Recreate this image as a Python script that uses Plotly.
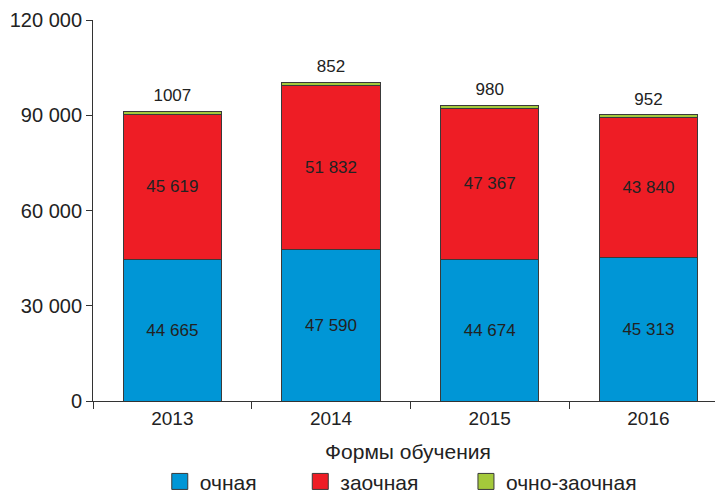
import plotly.graph_objects as go

years = ["2013", "2014", "2015", "2016"]
ochnaya = [44665, 47590, 44674, 45313]
zaochnaya = [45619, 51832, 47367, 43840]
ochno_zaochnaya = [1007, 852, 980, 952]
yticks = [0, 30000, 60000, 90000, 120000]
ytick_text = ["0", "30 000", "60 000", "90 000", "120 000"]

series_names = ["очная", "заочная", "очно-заочная"]
series_colors = ["#0096d6", "#ee1d25", "#a4c93b"]


def fmt(v):
    return f"{v:,}".replace(",", " ")


totals = [a + b + c for a, b, c in zip(ochnaya, zaochnaya, ochno_zaochnaya)]
line = dict(color="#3a3a3a", width=1)
font_family = "Liberation Sans, Arial, sans-serif"

fig = go.Figure()
fig.add_trace(go.Bar(
    x=years, y=ochnaya, name=series_names[0],
    marker=dict(color=series_colors[0], line=line),
    text=[fmt(v) for v in ochnaya], textposition="inside",
    insidetextanchor="middle", textangle=0,
    textfont=dict(color="#222222", size=17),
    width=0.62, showlegend=False,
))
fig.add_trace(go.Bar(
    x=years, y=zaochnaya, name=series_names[1],
    marker=dict(color=series_colors[1], line=line),
    text=[fmt(v) for v in zaochnaya], textposition="inside",
    insidetextanchor="middle", textangle=0,
    textfont=dict(color="#222222", size=17),
    width=0.62, showlegend=False,
))
fig.add_trace(go.Bar(
    x=years, y=ochno_zaochnaya, name=series_names[2],
    marker=dict(color=series_colors[2], line=line),
    textposition="none",
    width=0.62, showlegend=False,
))
# labels for the thin top segment, above the bar
fig.add_trace(go.Scatter(
    x=years, y=totals, mode="markers+text",
    marker=dict(size=8, opacity=0),
    text=[str(v) for v in ochno_zaochnaya], textposition="top center",
    textfont=dict(color="#222222", size=17),
    showlegend=False, hoverinfo="skip",
))

# one small legend per series so each swatch sits where the original puts it
legend_ids = ["legend", "legend2", "legend3"]
legend_x = [0.106, 0.329, 0.592]
for name, color, lid in zip(series_names, series_colors, legend_ids):
    fig.add_trace(go.Scatter(
        x=[None], y=[None], mode="markers", name=name, legend=lid,
        marker=dict(symbol="square", size=16, color=color,
                    line=dict(color="#3a3a3a", width=1)),
    ))

leg_style = dict(orientation="h", xanchor="left", y=-0.212, yanchor="middle",
                 font=dict(size=21), itemwidth=30, bgcolor="rgba(0,0,0,0)")

fig.update_layout(
    barmode="stack",
    width=723, height=494,
    margin=dict(l=85, r=8, t=12, b=101, autoexpand=False),
    paper_bgcolor="white", plot_bgcolor="white",
    font=dict(family=font_family, color="#222222", size=20),
    legend=dict(x=legend_x[0], **leg_style),
    legend2=dict(x=legend_x[1], **leg_style),
    legend3=dict(x=legend_x[2], **leg_style),
)
fig.update_xaxes(
    type="category", range=[-0.5, 3.47],
    showline=True, linecolor="#333333", linewidth=1,
    ticks="outside", tickson="boundaries", ticklen=7, tickcolor="#333333",
    title=dict(text="Формы обучения", font=dict(size=21), standoff=16),
    tickfont=dict(size=19),
)
fig.update_yaxes(
    range=[0, 120000], tickvals=yticks, ticktext=ytick_text,
    showline=True, linecolor="#333333", linewidth=1,
    ticks="outside", ticklen=6, tickcolor="#333333",
    showgrid=False, zeroline=False,
    tickfont=dict(size=20),
)

fig.write_html("out.html")
